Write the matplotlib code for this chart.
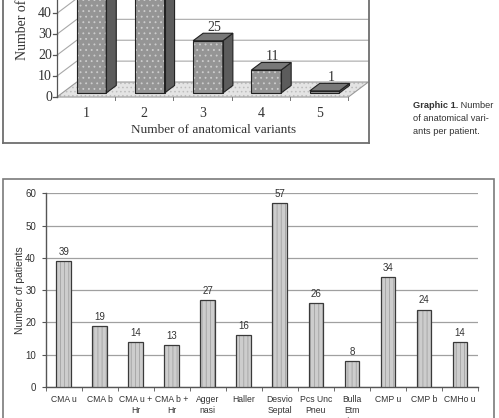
import matplotlib.pyplot as plt
from matplotlib.patches import Polygon, Rectangle

# Graphic 1: number of anatomical variants per patient (3D columns, top cropped)
variant_counts = ["1", "2", "3", "4", "5"]
variant_patients = [49, 50, 25, 11, 1]

# Graphic 2: number of patients per anatomical variant
variants = ["CMA u", "CMA b", "CMA u +\nHr", "CMA b +\nHr", "Agger\nnasi",
            "Haller", "Desvio\nSeptal", "Pcs Unc\nPneu", "Bulla\nEtm\nHiper",
            "CMP u", "CMP b", "CMHo u"]
patients = [39, 19, 14, 13, 27, 16, 57, 26, 8, 34, 24, 14]

W, H = 499, 418
SERIF = "Liberation Serif"
SANS = "Liberation Sans"


def box(left, top, right, bottom):
    # pixel box -> figure fraction [l, b, w, h]
    return [left / W, 1 - bottom / H, (right - left) / W, (bottom - top) / H]


fig = plt.figure(figsize=(W / 100, H / 100), dpi=100)
plt.rcParams["hatch.linewidth"] = 0.6

# ---------------- top chart (pseudo 3D) ----------------
ax1 = fig.add_axes(box(3, -20, 369, 143))
ax1.set_xlim(-0.4237, 5.854)
ax1.set_ylim(-22.0, 56.0)
ax1.set_xticks([])
ax1.set_yticks([])
for s in ax1.spines.values():
    s.set_color("#6e6e6e")
    s.set_linewidth(1.3)

DX, DY = 0.343, 7.18        # full floor depth offset (category, value units)
x0, x1 = 0.5, 5.5
d0, d1 = 0.27, 0.77         # bar front / back depth
bw = 0.51

floor = [(x0, 0), (x1, 0), (x1 + DX, DY), (x0 + DX, DY)]
ax1.add_patch(Polygon(floor, closed=True, facecolor="#e4e4e4",
                      edgecolor="#bdbdbd", hatch="....", lw=0, zorder=1))
ax1.add_patch(Polygon(floor, closed=True, fill=False, edgecolor="#9a9a9a",
                      lw=0.8, zorder=1))

for v in range(10, 60, 10):
    ax1.plot([x0, x0 + DX, x1 + DX + 1], [v, v + DY, v + DY],
             color="#a8a8a8", lw=0.8, zorder=0.5)
ax1.plot([x0 + DX, x0 + DX], [DY, 60], color="#a8a8a8", lw=0.8, zorder=0.5)

# y axis with ticks
ax1.plot([x0, x0], [0, 60], color="#555555", lw=0.9, zorder=2)
for v in range(0, 50, 10):
    ax1.plot([x0 - 0.06, x0], [v, v], color="#555555", lw=0.9, zorder=2)
    ax1.text(0.417, v, str(v), ha="right", va="center", fontsize=10,
             family=SERIF, color="#333333")
for c in range(1, 6):
    cx = c + 0.5
    ax1.plot([cx, cx], [0, -1.5], color="#777777", lw=0.7, zorder=2)

for i, (lab, v) in enumerate(zip(variant_counts, variant_patients)):
    c = i + 1
    l = c - bw / 2
    r = c + bw / 2
    front = [(l + d0 * DX, d0 * DY), (r + d0 * DX, d0 * DY),
             (r + d0 * DX, v + d0 * DY), (l + d0 * DX, v + d0 * DY)]
    side = [(r + d0 * DX, d0 * DY), (r + d1 * DX, d1 * DY),
            (r + d1 * DX, v + d1 * DY), (r + d0 * DX, v + d0 * DY)]
    top = [(l + d0 * DX, v + d0 * DY), (r + d0 * DX, v + d0 * DY),
           (r + d1 * DX, v + d1 * DY), (l + d1 * DX, v + d1 * DY)]
    ax1.add_patch(Polygon(front, facecolor="#959595", edgecolor="#cdcdcd",
                          hatch="...", lw=0, zorder=3))
    ax1.add_patch(Polygon(front, fill=False, edgecolor="#222222", lw=0.8,
                          zorder=4))
    ax1.add_patch(Polygon(side, facecolor="#5c5c5c", edgecolor="#222222",
                          lw=0.8, zorder=3))
    ax1.add_patch(Polygon(top, facecolor="#787878", edgecolor="#222222",
                          lw=0.8, zorder=3))
    if v + DY < 40:  # labels of the tall columns lie above the cropped top
        ax1.text(c + 0.6 * DX, v + DY + 1.0, str(v), ha="center",
                 va="center", fontsize=10, family=SERIF, color="#333333")
    ax1.text(c, -8.1, lab, ha="center", va="center", fontsize=10,
             family=SERIF, color="#333333")

ax1.text(3.18, -15.8, "Number of anatomical variants", ha="center",
         va="center", fontsize=9.5, family=SERIF, color="#333333")
ax1.text(-0.09, 17.7, "Number of patients", rotation=90,
         rotation_mode="anchor", ha="left", va="center", fontsize=10,
         family=SERIF, color="#333333")

# caption
cap = dict(fontsize=6.7, family=SANS, color="#333333")
t1 = fig.text(413 / W, 1 - 105 / H, "Graphic 1.", fontweight="bold",
              ha="left", va="center", **cap)
ax1.annotate(" Number", xy=(1, 0), xycoords=t1, ha="left", va="bottom",
             annotation_clip=False, **cap)
fig.text(413 / W, 1 - 118.5 / H, "of anatomical vari-", ha="left",
         va="center", **cap)
fig.text(413 / W, 1 - 132 / H, "ants per patient.", ha="left",
         va="center", **cap)

# ---------------- bottom chart ----------------
fig.add_artist(Rectangle((3 / W, -0.05), 491 / W, (1 - 179 / H) + 0.05,
                         transform=fig.transFigure, fill=False,
                         edgecolor="#7a7a7a", lw=1.2))

ax2 = fig.add_axes(box(45.7, 193.3, 478, 387))
x = range(len(variants))
ax2.bar(x, patients, width=0.41, color="#cdcdcd", edgecolor="#a2a2a2",
        hatch="||||", lw=0, zorder=3)
ax2.bar(x, patients, width=0.41, fill=False, edgecolor="#3a3a3a", lw=0.9,
        zorder=4)
for xi, v in zip(x, patients):
    ax2.text(xi, v + 2.8, str(v), ha="center", va="center", fontsize=7,
             family=SANS, color="#333333")

ax2.set_xlim(-0.5, len(variants) - 0.5)
ax2.set_ylim(0, 60)
ax2.set_yticks(range(0, 61, 10))
ax2.set_xticks(list(x))
ax2.set_xticklabels(variants, fontsize=6.2, family=SANS, color="#333333",
                    linespacing=1.25)
ax2.set_xticks([i + 0.5 for i in range(-1, len(variants))], minor=True)
ax2.tick_params(axis="x", which="major", length=0, pad=6)
ax2.tick_params(axis="x", which="minor", length=3, color="#555555")
ax2.tick_params(axis="y", length=3, color="#555555", labelsize=7,
                labelcolor="#333333", pad=4)
for lab in ax2.get_yticklabels():
    lab.set_family(SANS)
ax2.grid(axis="y", color="#a0a0a0", lw=0.9, zorder=0)
ax2.set_axisbelow(True)
for s in ["top", "right"]:
    ax2.spines[s].set_visible(False)
for s in ["left", "bottom"]:
    ax2.spines[s].set_color("#555555")
    ax2.spines[s].set_linewidth(1.0)
ax2.set_ylabel("Number of patients", fontsize=7.5, family=SANS,
               color="#333333")
ax2.yaxis.set_label_coords(-0.047, 0.5)

fig.savefig("out.png", dpi=100)
